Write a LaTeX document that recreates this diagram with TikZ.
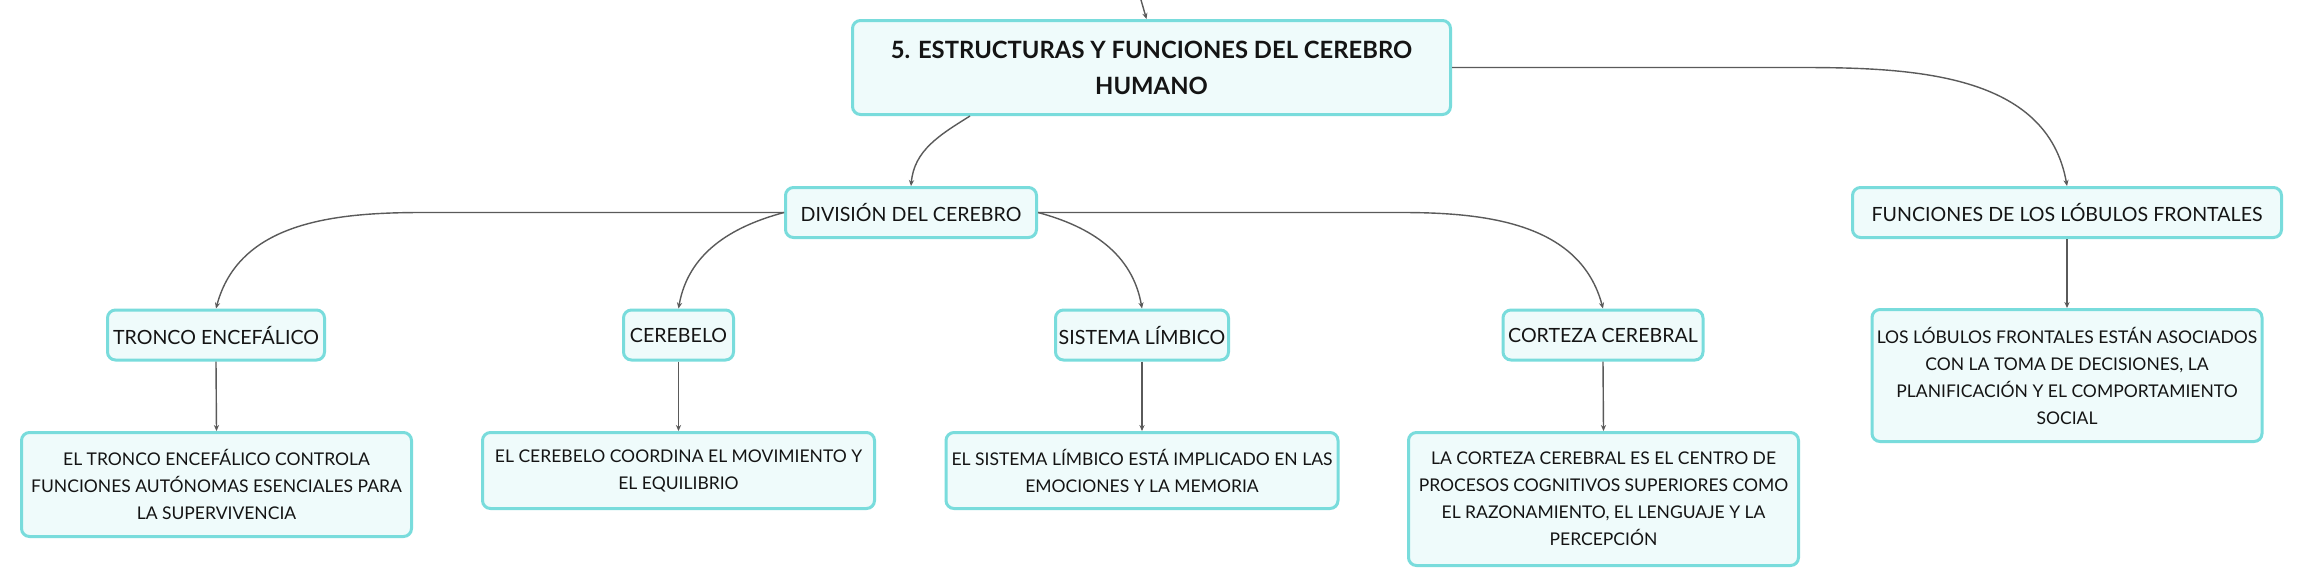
\documentclass[tikz,border=0pt]{standalone}
\usepackage{fontspec}
\setmainfont{Lato}
\usetikzlibrary{arrows.meta,calc}
\definecolor{boxline}{HTML}{79DCDC}
\definecolor{boxfill}{HTML}{EFFBFB}
\definecolor{linkgray}{HTML}{5A5A5A}
\tikzset{
	topic/.style={draw=boxline, fill=boxfill, line width=1.5pt, rounded corners=4pt, align=center, inner sep=0pt, minimum height=25pt, text=black!92, font=\fontsize{9.8}{13.5}\selectfont},
	note/.style={topic, font=\fontsize{8.75}{13.5}\selectfont},
	rootbox/.style={topic, font=\fontsize{11.9}{18}\selectfont\bfseries},
	link/.style={draw=linkgray, line width=0.7pt, -{Stealth[length=3pt,width=2.6pt]}}
}

\begin{document}
\begin{tikzpicture}[x=0.5pt, y=0.5pt]
			%%%%% FRAME %%%%%
			\fill[white] (0,0) rectangle (2304,-586);
			\useasboundingbox (0,0) rectangle (2304,-586);
			
			%%%%% TOPICS %%%%%
			\node[rootbox, minimum width=299pt, minimum height=47pt] (root) at (1151.5,-67.5) {5. ESTRUCTURAS Y FUNCIONES DEL CEREBRO\\HUMANO};
			
			\node[topic, minimum width=125.5pt] (div) at (911,-212.5) {DIVISIÓN DEL CEREBRO};
			\node[topic, minimum width=214.5pt] (fun) at (2067,-212.5) {FUNCIONES DE LOS LÓBULOS FRONTALES};
			
			\node[topic, minimum width=108.5pt] (tronco) at (216,-335) {TRONCO ENCEFÁLICO};
			\node[topic, minimum width=55pt] (cereb) at (678.5,-335) {CEREBELO};
			\node[topic, minimum width=86.5pt] (limb) at (1142,-335) {SISTEMA LÍMBICO};
			\node[topic, minimum width=100pt] (corteza) at (1603,-335) {CORTEZA CEREBRAL};
			
			\node[note, minimum width=195pt, minimum height=52pt] (tdesc) at (216.5,-484.5) {EL TRONCO ENCEFÁLICO CONTROLA\\FUNCIONES AUTÓNOMAS ESENCIALES PARA\\LA SUPERVIVENCIA};
			\node[note, minimum width=196pt, minimum height=38pt] (cdesc) at (678.5,-470.5) {EL CEREBELO COORDINA EL MOVIMIENTO Y\\EL EQUILIBRIO};
			\node[note, minimum width=196pt, minimum height=38pt] (sdesc) at (1142,-470.5) {EL SISTEMA LÍMBICO ESTÁ IMPLICADO EN LAS\\EMOCIONES Y LA MEMORIA};
			\node[note, minimum width=195pt, minimum height=66.5pt] (kdesc) at (1603.5,-499) {LA CORTEZA CEREBRAL ES EL CENTRO DE\\PROCESOS COGNITIVOS SUPERIORES COMO\\EL RAZONAMIENTO, EL LENGUAJE Y LA\\PERCEPCIÓN};
			\node[note, minimum width=195pt, minimum height=66pt] (ldesc) at (2067,-375.5) {LOS LÓBULOS FRONTALES ESTÁN ASOCIADOS\\CON LA TOMA DE DECISIONES, LA\\PLANIFICACIÓN Y EL COMPORTAMIENTO\\SOCIAL};
			
			%%%%% LINKS %%%%%
			\coordinate (up) at (1141,0);
			\draw[link] (up) -- ($(root.north)+(-5,0)$);
			
			\draw[link] ($(root.south)+(-181.5,0)$) to[out=212,in=85] (div.north);
			\draw[link] (root.east) -- ++(350,0) to[out=0,in=100] (fun.north);
			
			\draw[link] (div.west) -- ++(-362,0) to[out=180,in=75] (tronco.north);
			\draw[link] (div.west) to[out=195,in=80] (cereb.north);
			\draw[link] (div.east) to[out=-15,in=100] (limb.north);
			\draw[link] (div.east) -- ++(364,0) to[out=0,in=105] (corteza.north);
			
			\foreach \a/\b in {tronco/tdesc, cereb/cdesc, limb/sdesc, corteza/kdesc, fun/ldesc}
				\draw[link] (\a.south) -- (\b.north);
		\end{tikzpicture}
\end{document}
